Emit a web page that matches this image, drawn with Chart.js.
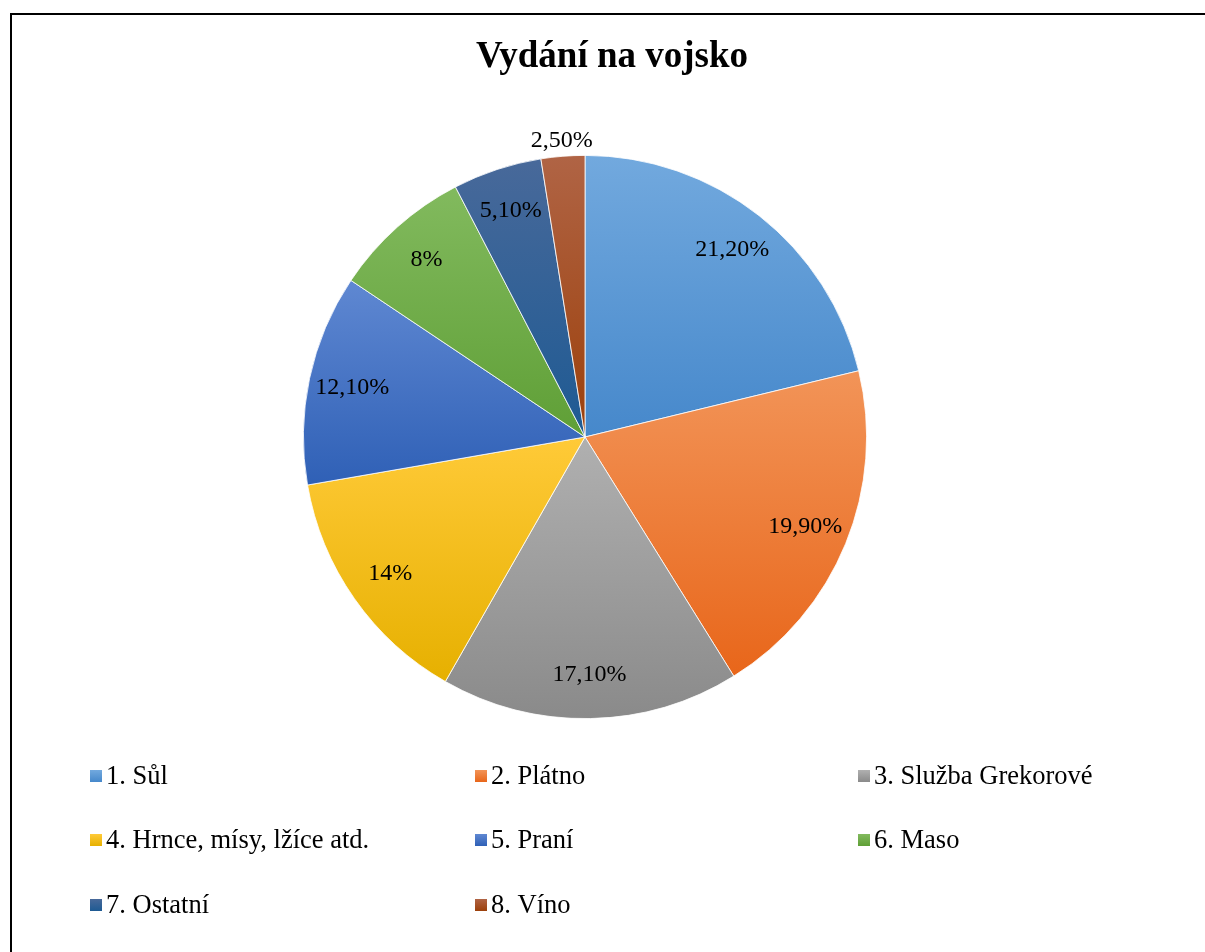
<!DOCTYPE html>
<html>
<head>
<meta charset="utf-8">
<script src="https://cdn.jsdelivr.net/npm/chart.js@4.4.1/dist/chart.umd.min.js"></script>
<style>
  html, body { margin: 0; padding: 0; background: #fff; }
  #wrap { position: relative; width: 1205px; height: 952px; overflow: hidden; }
  #frame { position: absolute; left: 10px; top: 13px; width: 1220px; height: 980px;
           border: 2.5px solid #000; box-sizing: border-box; }
  canvas { position: absolute; left: 0; top: 0; }
</style>
</head>
<body>
<div id="wrap">
  <div id="frame"></div>
  <canvas id="c" width="1205" height="952"></canvas>
</div>
<script>
const chartTitle = 'Vydání na vojsko';
const categories = ['1. Sůl', '2. Plátno', '3. Služba Grekorové', '4. Hrnce, mísy, lžíce atd.', '5. Praní', '6. Maso', '7. Ostatní', '8. Víno'];
const values = [21.2, 19.9, 17.1, 14, 12.1, 8, 5.1, 2.5];
const valueLabels = ['21,20%', '19,90%', '17,10%', '14%', '12,10%', '8%', '5,10%', '2,50%'];
const topColors = ['#72a9de', '#f29458', '#b0b0b0', '#ffca38', '#5f88d2', '#82ba5e', '#48699a', '#b06445'];
const bottomColors = ['#4688cb', '#e8661a', '#8a8a8a', '#e6b000', '#2f60b6', '#5f9f36', '#1e5a93', '#9c400b'];

const FONT = '"Liberation Serif", "Times New Roman", serif';

function sliceGeom(chart, i) {
  const a = chart.chartArea;
  const cx = (a.left + a.right) / 2, cy = (a.top + a.bottom) / 2;
  const r = Math.min(a.right - a.left, a.bottom - a.top) / 2;
  const total = values.reduce((s, v) => s + v, 0);
  let before = 0;
  for (let k = 0; k < i; k++) before += values[k];
  const start = -Math.PI / 2 + 2 * Math.PI * before / total;
  const end = start + 2 * Math.PI * values[i] / total;
  return { cx, cy, r, start, end };
}

function sliceGradient(ctx) {
  const chart = ctx.chart;
  const i = ctx.dataIndex;
  if (ctx.type !== 'data' || !chart.chartArea) return topColors[i] || '#888';
  const g = sliceGeom(chart, i);
  const ys = [g.cy, g.cy + g.r * Math.sin(g.start), g.cy + g.r * Math.sin(g.end)];
  for (let k = -2; k <= 2; k++) {
    const up = -Math.PI / 2 + 2 * Math.PI * k;
    const dn = Math.PI / 2 + 2 * Math.PI * k;
    if (up >= g.start && up <= g.end) ys.push(g.cy - g.r);
    if (dn >= g.start && dn <= g.end) ys.push(g.cy + g.r);
  }
  const y0 = Math.min(...ys), y1 = Math.max(...ys);
  const grad = chart.ctx.createLinearGradient(0, y0, 0, y1);
  grad.addColorStop(0, topColors[i]);
  grad.addColorStop(1, bottomColors[i]);
  return grad;
}

const decorPlugin = {
  id: 'decor',
  afterDraw(chart) {
    const c = chart.ctx;
    c.save();
    // title
    c.fillStyle = '#000';
    c.font = 'bold 37px ' + FONT;
    c.textAlign = 'center';
    c.textBaseline = 'middle';
    c.fillText(chartTitle, 612, 57);

    // data labels
    c.font = '24px ' + FONT;
    const meta = chart.getDatasetMeta(0);
    meta.data.forEach((arc, i) => {
      const mid = (arc.startAngle + arc.endAngle) / 2;
      const small = values[i] < 4;
      const rr = small ? arc.outerRadius * 1.055 : arc.outerRadius * 0.845;
      const x = arc.x + rr * Math.cos(mid);
      const y = arc.y + rr * Math.sin(mid);
      c.fillText(valueLabels[i], x, y);
    });

    // legend (3 columns)
    const colX = [90, 475, 858];
    const rowY = [776, 840, 905];
    c.font = '26.5px ' + FONT;
    c.textAlign = 'left';
    categories.forEach((lab, i) => {
      const x = colX[i % 3], y = rowY[Math.floor(i / 3)];
      const g = c.createLinearGradient(0, y - 6, 0, y + 6);
      g.addColorStop(0, topColors[i]);
      g.addColorStop(1, bottomColors[i]);
      c.fillStyle = g;
      c.fillRect(x, y - 6, 12, 12);
      c.fillStyle = '#000';
      c.fillText(lab, x + 16, y + 1);
    });
    c.restore();
  }
};

new Chart(document.getElementById('c'), {
  type: 'pie',
  data: {
    labels: categories,
    datasets: [{
      data: values,
      backgroundColor: sliceGradient,
      borderColor: '#ffffff',
      borderWidth: 0.8
    }]
  },
  options: {
    responsive: false,
    animation: false,
    layout: { padding: { left: 303, right: 338, top: 155, bottom: 233 } },
    plugins: {
      legend: { display: false },
      title: { display: false },
      tooltip: { enabled: false }
    }
  },
  plugins: [decorPlugin]
});
</script>
</body>
</html>
